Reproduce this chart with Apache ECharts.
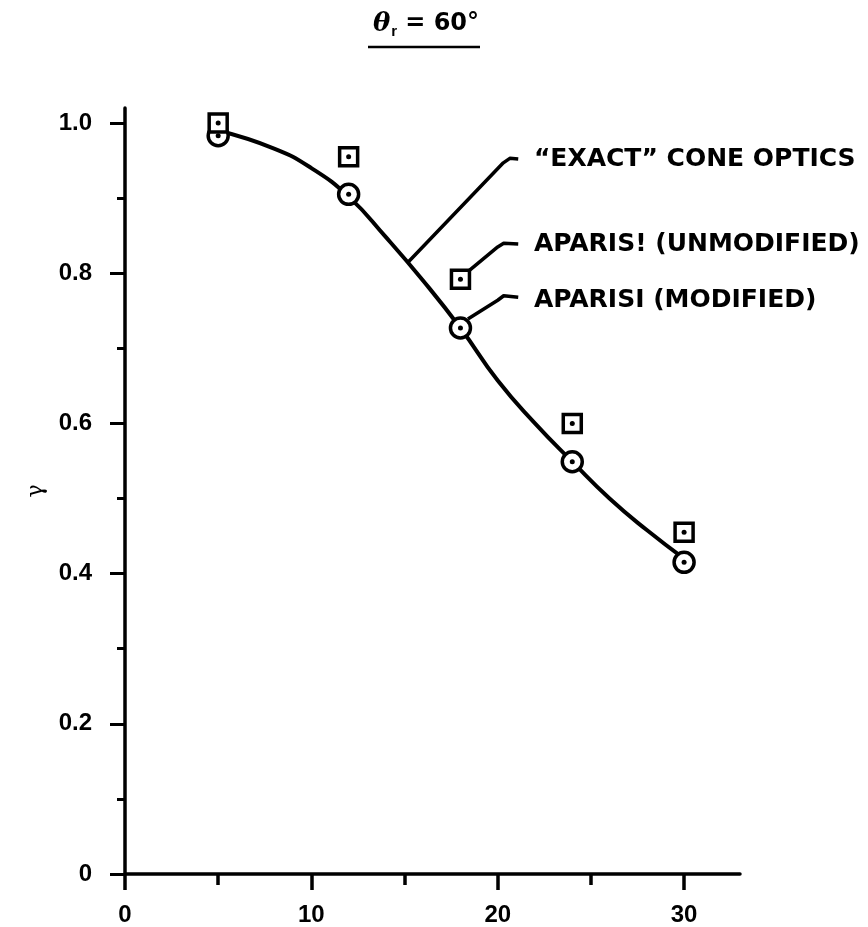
<!DOCTYPE html>
<html>
<head>
<meta charset="utf-8">
<script src="https://cdn.jsdelivr.net/npm/echarts@6/dist/echarts.min.js"></script>
<style>
  html, body { margin: 0; padding: 0; background: #fff; }
  #chart { width: 868px; height: 927px; }
</style>
</head>
<body>
<div id="chart"></div>
<script>
// Sample points (incidence angle) and efficiency values
const incidence = [5, 12, 18, 24, 30];
const aparisiUnmodified = [1.0, 0.955, 0.792, 0.600, 0.455];
const aparisiModified = [0.983, 0.905, 0.727, 0.549, 0.415];

// "Exact" cone optics curve
const exactX = [5, 8, 10, 12, 14, 16, 18, 20, 22, 24, 26, 28, 30];
const exactY = [0.99, 0.966, 0.94, 0.902, 0.848, 0.79, 0.727, 0.657, 0.600, 0.549, 0.500, 0.458, 0.42];

// Axis ticks
const xMajorTicks = [0, 10, 20, 30];
const xMinorTicks = [5, 15, 25];
const yMajorTicks = [0, 0.2, 0.4, 0.6, 0.8, 1.0];
const yMinorTicks = [0.1, 0.3, 0.5, 0.7, 0.9];

const seriesNames = ['\u201CEXACT\u201D CONE OPTICS', 'APARIS! (UNMODIFIED)', 'APARISI (MODIFIED)'];

// Leader lines in data space: from the mark to the label hook
const leaders = [
  [[15.2, 0.815], [20.3, 0.947], [20.65, 0.953], [21.1, 0.952]],
  [[18.4, 0.802], [20.0, 0.835], [20.32, 0.840], [21.1, 0.839]],
  [[18.4, 0.739], [20.0, 0.764], [20.32, 0.770], [21.1, 0.768]]
];
const labelAnchors = [[21.94, 0.951], [21.94, 0.838], [21.94, 0.764]];

const FONT = '"Liberation Sans", Arial, Helvetica, sans-serif';
const WIDE = '"DejaVu Sans", Verdana, sans-serif';
const INK = '#000';

const zip = (xs, ys) => xs.map((x, i) => [x, ys[i]]);

const chart = echarts.init(document.getElementById('chart'), null, { renderer: 'canvas' });

const option = {
  backgroundColor: '#fff',
  animation: false,
  grid: { left: 125, right: 128, top: 108, bottom: 53, containLabel: false },
  xAxis: [
    {
      type: 'value', min: 0, max: 33, position: 'bottom',
      axisLine: { show: true, lineStyle: { color: INK, width: 3.5 } },
      axisTick: { show: true, customValues: xMajorTicks, length: 16, lineStyle: { color: INK, width: 3.5 } },
      axisLabel: { customValues: xMajorTicks, fontSize: 24, fontWeight: 'bold', color: INK, fontFamily: FONT, margin: 29 },
      splitLine: { show: false }
    },
    {
      type: 'value', min: 0, max: 33, position: 'bottom', offset: 0,
      axisLine: { show: false },
      axisTick: { show: true, customValues: xMinorTicks, length: 11, lineStyle: { color: INK, width: 3.5 } },
      axisLabel: { show: false },
      splitLine: { show: false }
    }
  ],
  yAxis: [
    {
      type: 'value', min: 0, max: 1.02, position: 'left',
      name: '\u03B3', nameLocation: 'middle', nameGap: 62, nameRotate: 90,
      nameTextStyle: { fontSize: 22, color: INK, fontFamily: '"DejaVu Serif", serif' },
      axisLine: { show: true, lineStyle: { color: INK, width: 3.5 } },
      axisTick: { show: true, customValues: yMajorTicks, length: 15, lineStyle: { color: INK, width: 3 } },
      axisLabel: {
        customValues: yMajorTicks, fontSize: 24, fontWeight: 'bold', color: INK, fontFamily: FONT, margin: 33,
        formatter: v => (v === 0 ? '0' : v.toFixed(1))
      },
      splitLine: { show: false }
    },
    {
      type: 'value', min: 0, max: 1.02, position: 'left', offset: 0,
      axisLine: { show: false },
      axisTick: { show: true, customValues: yMinorTicks, length: 8, lineStyle: { color: INK, width: 3 } },
      axisLabel: { show: false },
      splitLine: { show: false }
    }
  ],
  series: [
    {
      name: seriesNames[0], type: 'line', smooth: true, showSymbol: false,
      data: zip(exactX, exactY),
      lineStyle: { color: INK, width: 4 }, z: 2
    },
    {
      name: seriesNames[2], type: 'scatter', symbol: 'circle', symbolSize: 20,
      data: zip(incidence, aparisiModified),
      itemStyle: { color: '#fff', borderColor: INK, borderWidth: 3.5, opacity: 1 }, z: 3
    },
    {
      name: seriesNames[1], type: 'scatter', symbol: 'rect', symbolSize: 18,
      data: zip(incidence, aparisiUnmodified),
      itemStyle: { color: '#fff', borderColor: INK, borderWidth: 3.5, opacity: 1 }, z: 4
    },
    {
      name: 'modified-dot', type: 'scatter', symbol: 'circle', symbolSize: 5,
      data: zip(incidence, aparisiModified),
      itemStyle: { color: INK, opacity: 1 }, z: 5, silent: true
    },
    {
      name: 'unmodified-dot', type: 'scatter', symbol: 'circle', symbolSize: 5,
      data: zip(incidence, aparisiUnmodified),
      itemStyle: { color: INK, opacity: 1 }, z: 5, silent: true
    }
  ]
};

chart.setOption(option);

// Annotation layer: title, leader lines and series labels
const toPx = p => chart.convertToPixel({ gridIndex: 0 }, p);
const graphics = [];

graphics.push({
  type: 'text', x: 373, y: 24,
  style: {
    text: '{th|\u03B8}{sub|r}{eq|= 60\u00B0}',
    textVerticalAlign: 'middle',
    rich: {
      th: { fontSize: 26, fontStyle: 'italic', fontWeight: 'bold', fontFamily: '"DejaVu Serif", serif', fill: INK },
      sub: { fontSize: 15, fontWeight: 'bold', fontFamily: FONT, fill: INK, padding: [16, 8, 0, 1] },
      eq: { fontSize: 24, fontWeight: 'bold', fontFamily: WIDE, fill: INK }
    }
  }
});
graphics.push({
  type: 'line', shape: { x1: 368, y1: 47, x2: 480, y2: 47 },
  style: { stroke: INK, lineWidth: 2.5 }
});

leaders.forEach((pts, i) => {
  graphics.push({
    type: 'polyline',
    shape: { points: pts.map(toPx) },
    style: { stroke: INK, lineWidth: 3.5, fill: null, lineJoin: 'round' }
  });
  const a = toPx(labelAnchors[i]);
  graphics.push({
    type: 'text', x: a[0], y: a[1],
    style: {
      text: seriesNames[i], fill: INK, font: 'bold 25px ' + WIDE,
      textAlign: 'left', textVerticalAlign: 'middle'
    }
  });
});

chart.setOption({ graphic: graphics });
</script>
</body>
</html>
